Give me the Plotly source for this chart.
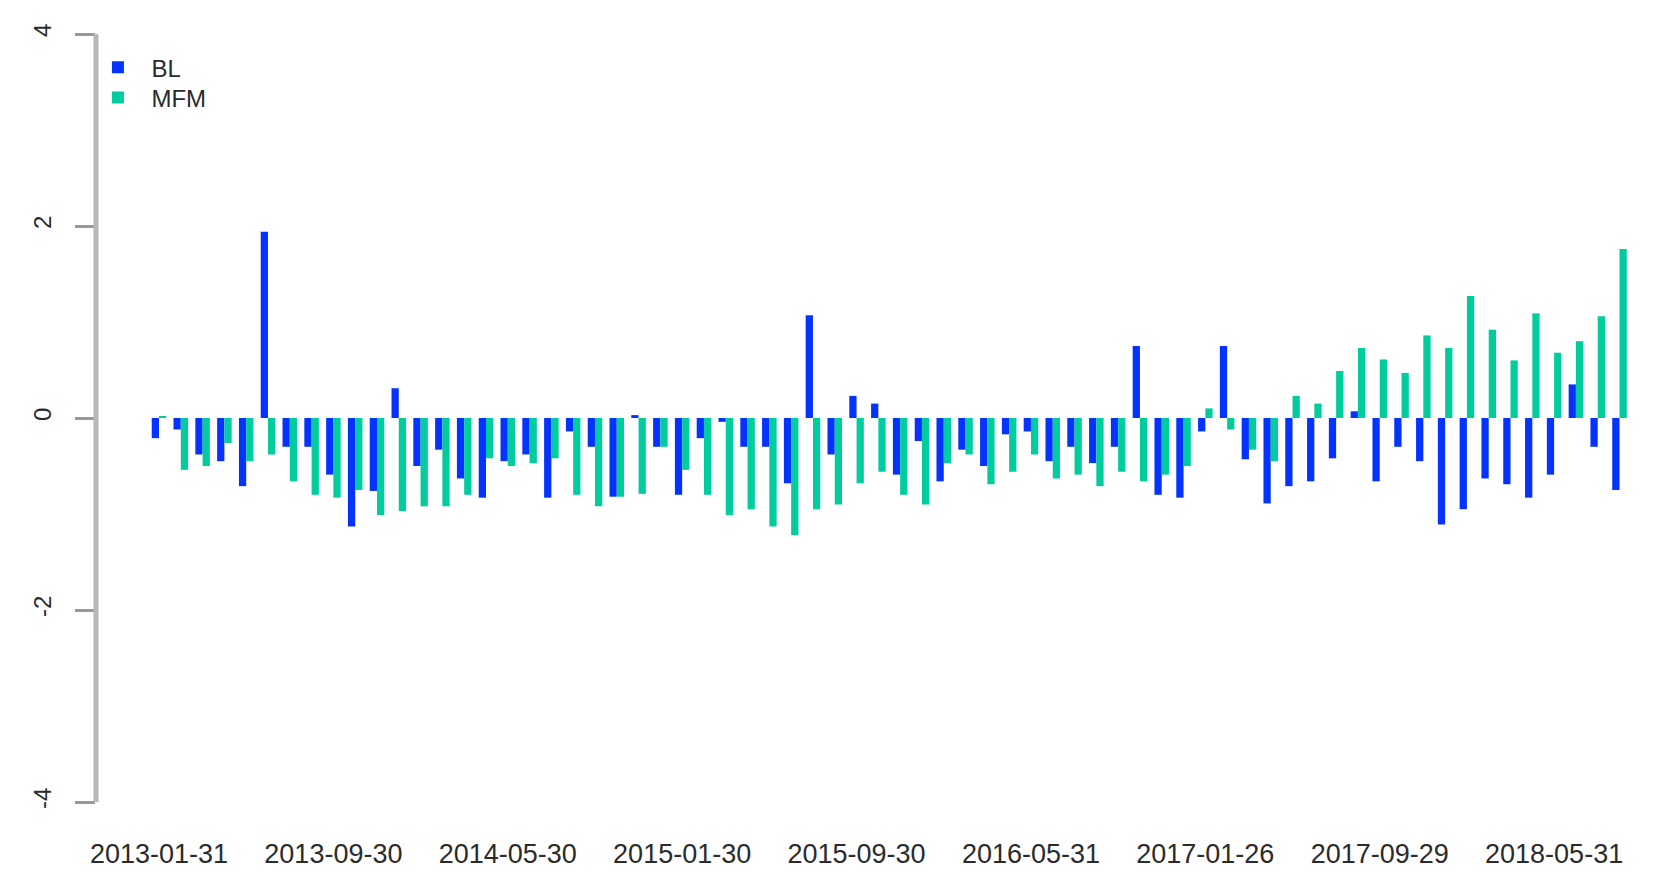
import plotly.graph_objects as go

# monthly values, 2013-01 .. 2018-08
bl_values = [
    -0.21, -0.12, -0.38, -0.45, -0.71, 1.94, -0.30, -0.30, -0.59, -1.13,
    -0.76, 0.31, -0.50, -0.33, -0.63, -0.83, -0.45, -0.38, -0.83, -0.14,
    -0.30, -0.82, 0.03, -0.30, -0.80, -0.21, -0.04, -0.30, -0.30, -0.68,
    1.07, -0.38, 0.23, 0.15, -0.59, -0.24, -0.66, -0.33, -0.50, -0.17,
    -0.14, -0.45, -0.30, -0.47, -0.30, 0.75, -0.80, -0.83, -0.14, 0.75,
    -0.43, -0.89, -0.71, -0.66, -0.42, 0.07, -0.66, -0.30, -0.45, -1.11,
    -0.95, -0.63, -0.69, -0.83, -0.59, 0.35, -0.30, -0.75,
]
mfm_values = [
    0.02, -0.54, -0.50, -0.26, -0.45, -0.38, -0.66, -0.80, -0.83, -0.75,
    -1.01, -0.97, -0.92, -0.92, -0.80, -0.42, -0.50, -0.47, -0.42, -0.80,
    -0.92, -0.82, -0.79, -0.30, -0.54, -0.80, -1.01, -0.95, -1.13, -1.22,
    -0.95, -0.90, -0.68, -0.56, -0.80, -0.90, -0.47, -0.38, -0.69, -0.56,
    -0.38, -0.63, -0.59, -0.71, -0.56, -0.66, -0.59, -0.50, 0.10, -0.12,
    -0.33, -0.45, 0.23, 0.15, 0.49, 0.73, 0.61, 0.47, 0.86, 0.73,
    1.27, 0.92, 0.60, 1.09, 0.68, 0.80, 1.06, 1.76,
]
# only every 8th month gets a label
date_labels = [
    "2013-01-31", "2013-09-30", "2014-05-30", "2015-01-30", "2015-09-30",
    "2016-05-31", "2017-01-26", "2017-09-29", "2018-05-31",
]
y_ticks = [-4, -2, 0, 2, 4]

x_idx = list(range(len(bl_values)))
label_pos = x_idx[::8][:len(date_labels)]

font_family = "Liberation Sans, Arial, sans-serif"
text_col = "#2b2b2b"

fig = go.Figure()
fig.add_trace(go.Bar(x=x_idx, y=bl_values, name="BL", marker_color="#0433FF",
                     marker_line_width=0, legend="legend"))
fig.add_trace(go.Bar(x=x_idx, y=mfm_values, name="MFM", marker_color="#00CC9E",
                     marker_line_width=0, legend="legend2"))

leg_style = dict(xanchor="left", yanchor="middle",
                 font=dict(size=24, color=text_col),
                 bgcolor="rgba(0,0,0,0)", itemwidth=57)

fig.update_layout(
    width=1645,
    height=886,
    barmode="group",
    bargap=1 / 3,
    bargroupgap=0,
    plot_bgcolor="white",
    paper_bgcolor="white",
    margin=dict(l=88, r=13, t=10, b=76),
    font=dict(family=font_family, color=text_col),
    legend=dict(x=-0.0075, y=0.938, **leg_style),
    legend2=dict(x=-0.0075, y=0.900, **leg_style),
    showlegend=True,
)

fig.update_xaxes(
    range=[-2.89, 67.94],
    tickvals=label_pos,
    ticktext=date_labels,
    ticks="",
    showline=False,
    showgrid=False,
    zeroline=False,
    tickfont=dict(size=27, color=text_col),
    ticklabelstandoff=17,
)
fig.update_yaxes(
    range=[-4.1667, 4.1667],
    tickvals=y_ticks,
    ticktext=[str(v) for v in y_ticks],
    ticks="outside",
    ticklen=20,
    tickwidth=3,
    tickcolor="#999999",
    tickangle=-90,
    showline=False,
    showgrid=False,
    zeroline=False,
    tickfont=dict(size=24, color=text_col),
    ticklabelstandoff=14,
)

# R-style axis line only spanning the tick range
fig.add_shape(type="line", xref="paper", yref="y", x0=0, x1=0,
              y0=min(y_ticks), y1=max(y_ticks),
              line=dict(color="#b8b8b8", width=5))

fig.write_html("out.html")
